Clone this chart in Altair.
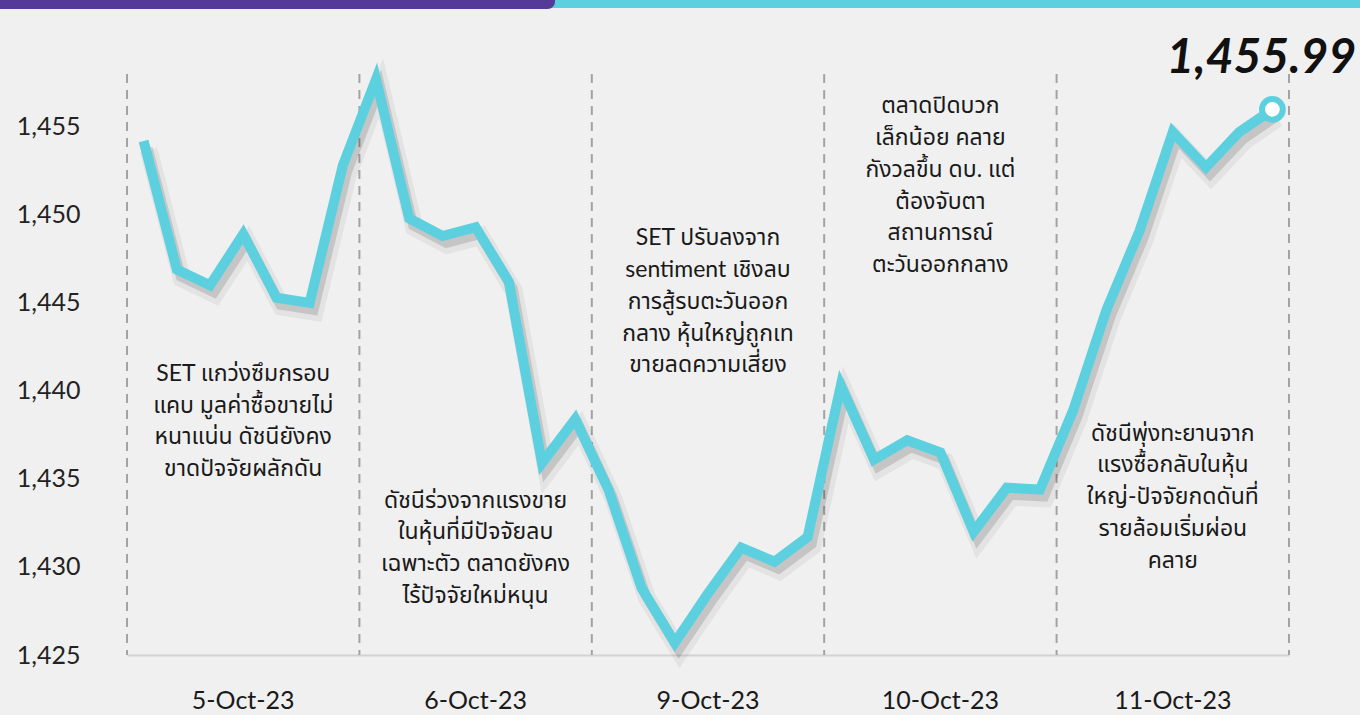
import altair as alt
import pandas as pd

# ---- data ----
days = ["5-Oct-23", "6-Oct-23", "9-Oct-23", "10-Oct-23", "11-Oct-23"]
points_per_day = 7
set_index = [
    1454.2, 1446.9, 1446.0, 1448.9, 1445.3, 1445.0, 1452.8,
    1457.7, 1449.8, 1448.8, 1449.3, 1446.2, 1435.9, 1438.4,
    1434.4, 1428.8, 1425.7, 1428.5, 1431.1, 1430.3, 1431.7,
    1440.3, 1436.1, 1437.2, 1436.5, 1432.0, 1434.5, 1434.4,
    1438.9, 1444.6, 1449.1, 1454.7, 1452.7, 1454.7, 1455.99,
]
y_ticks = [1425, 1430, 1435, 1440, 1445, 1450, 1455]
last_label = "1,455.99"

notes = [
    ["SET แกว่งซึมกรอบ", "แคบ มูลค่าซื้อขายไม่", "หนาแน่น ดัชนียังคง", "ขาดปัจจัยผลักดัน"],
    ["ดัชนีร่วงจากแรงขาย", "ในหุ้นที่มีปัจจัยลบ", "เฉพาะตัว ตลาดยังคง", "ไร้ปัจจัยใหม่หนุน"],
    ["SET ปรับลงจาก", "sentiment เชิงลบ", "การสู้รบตะวันออก", "กลาง หุ้นใหญ่ถูกเท", "ขายลดความเสี่ยง"],
    ["ตลาดปิดบวก", "เล็กน้อย คลาย", "กังวลขึ้น ดบ. แต่", "ต้องจับตา", "สถานการณ์", "ตะวันออกกลาง"],
    ["ดัชนีพุ่งทะยานจาก", "แรงซื้อกลับในหุ้น", "ใหญ่-ปัจจัยกดดันที่", "รายล้อมเริ่มผ่อน", "คลาย"],
]
note_top = [1441.6, 1434.4, 1449.3, 1456.8, 1438.2]

# ---- tables ----
n = len(set_index)
df = pd.DataFrame({"idx": list(range(n)), "v": set_index})
df_last = df.iloc[[-1]].assign(lab=last_label)
centers = [d * points_per_day + (points_per_day - 1) / 2 for d in range(len(days))]
df_days = pd.DataFrame({"c": centers, "day": days})
df_notes = pd.DataFrame({"c": centers, "y": note_top, "t": notes})
df_bounds = pd.DataFrame({"b": [d * points_per_day - 0.5 for d in range(len(days) + 1)]})

W, H = 1162, 581
FONT = "Lato, 'Noto Sans Thai', 'Noto Sans', sans-serif"
CYAN = "#5dd0df"

xscale = alt.Scale(domain=[-0.5, n - 0.5], nice=False, zero=False)
yscale = alt.Scale(domain=[1425, 1458], nice=False, zero=False)
xaxis = alt.Axis(labels=False, ticks=False, grid=False, domainColor="#d2d2d2",
                 domainWidth=2, title=None)
yaxis = alt.Axis(values=y_ticks, format=",", grid=False, ticks=False, domain=False,
                 labelFontSize=25, labelColor="#222222", labelFont=FONT,
                 labelPadding=47, title=None)


def X(field):
    return alt.X(field, type="quantitative", scale=xscale, axis=xaxis)


def Y(field):
    return alt.Y(field, type="quantitative", scale=yscale, axis=yaxis)


dummy = alt.Data(values=[{}])

bar_cyan = alt.Chart(dummy).mark_rect(color=CYAN).encode(
    x=alt.value(-127), x2=alt.value(W + 71), y=alt.value(-74), y2=alt.value(-66))
bar_purple = alt.Chart(dummy).mark_rect(color="#563a98", cornerRadiusBottomRight=12).encode(
    x=alt.value(-140), x2=alt.value(428), y=alt.value(-80), y2=alt.value(-65))

rules = alt.Chart(df_bounds).mark_rule(color="#a3a3a3", strokeWidth=2, strokeDash=[9, 7]).encode(
    x=X("b"), y=alt.value(0), y2=alt.value(H))

shadow1 = alt.Chart(df).mark_line(color="#000000", opacity=0.05, strokeWidth=18,
                                  xOffset=5, yOffset=9).encode(x=X("idx"), y=Y("v"))
shadow2 = alt.Chart(df).mark_line(color="#000000", opacity=0.13, strokeWidth=10,
                                  xOffset=4, yOffset=7).encode(x=X("idx"), y=Y("v"))
line = alt.Chart(df).mark_line(color=CYAN, strokeWidth=10).encode(x=X("idx"), y=Y("v"))

endpt = alt.Chart(df_last).mark_point(shape="circle", filled=True, fill="white",
                                      stroke=CYAN, strokeWidth=6, size=430, opacity=1).encode(
    x=X("idx"), y=Y("v"))
endlab = alt.Chart(df_last).mark_text(font=FONT, fontSize=48, fontWeight="bold",
                                      fontStyle="italic", color="#111111",
                                      dx=-11, dy=-50, align="center", baseline="middle").encode(
    x=X("idx"), y=Y("v"), text="lab:N")

note_txt = alt.Chart(df_notes).mark_text(font=FONT, fontSize=23, color="#1a1a1a",
                                         align="center", baseline="top", lineHeight=31.8).encode(
    x=X("c"), y=Y("y"), text="t")

day_txt = alt.Chart(df_days).mark_text(font=FONT, fontSize=25, color="#1a1a1a",
                                       align="center", baseline="middle").encode(
    x=X("c"), y=alt.value(627), text="day:N")

chart = alt.layer(
    bar_cyan, bar_purple, rules, shadow1, shadow2, line, endpt, endlab, note_txt, day_txt
).properties(
    width=W, height=H,
    autosize=alt.AutoSizeParams(type="none"),
    padding={"left": 127, "top": 74, "right": 71, "bottom": 60},
    background="#f0f0f0",
).configure_view(stroke=None)

chart.save("out.html", embed_options={"renderer": "svg", "actions": False})
